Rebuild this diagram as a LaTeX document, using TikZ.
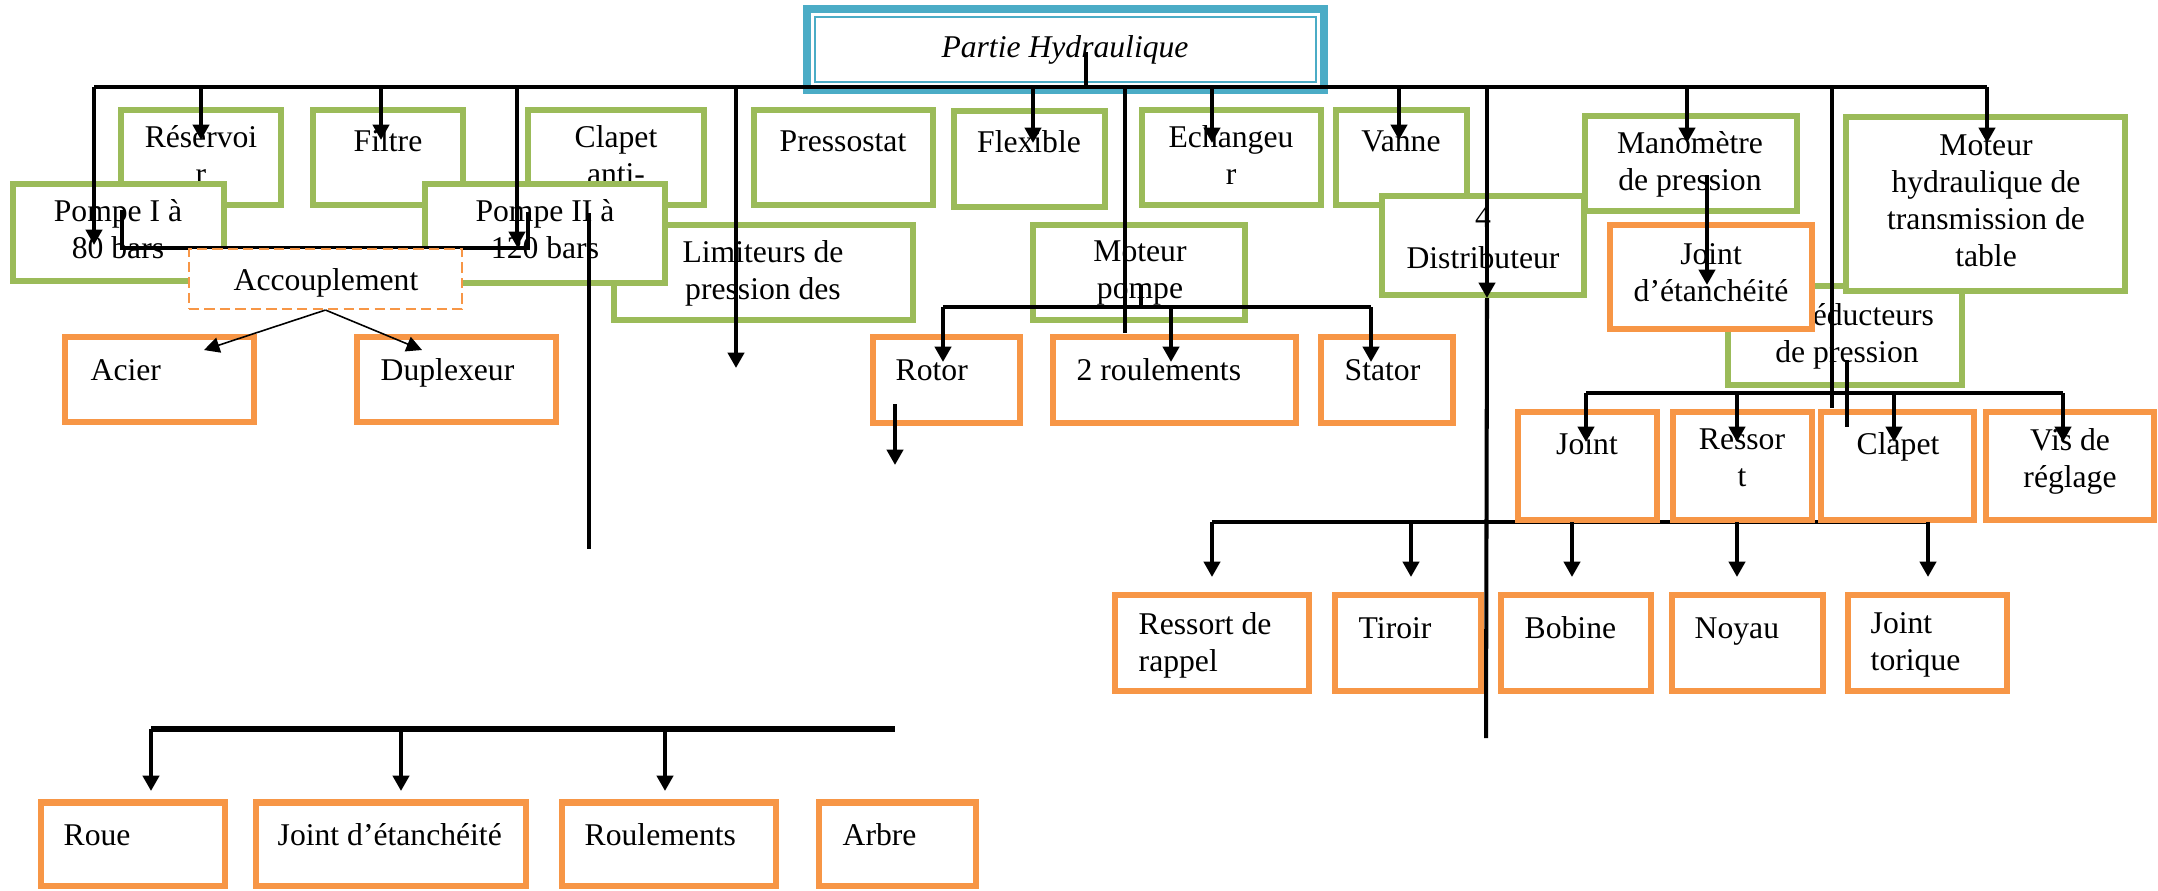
\documentclass[tikz,border=0pt]{standalone}
\usepackage{fontspec}
\setmainfont{Liberation Serif}
\usetikzlibrary{arrows.meta}
\definecolor{gr}{HTML}{9BBB59}
\definecolor{og}{HTML}{F79646}
\definecolor{bl}{HTML}{4BACC6}
% box from outer corners: \bx[line width pt]{style}{name}{x1}{y1}{x2}{y2}
\newcommand\bx[7][1.85]{%
  \pgfmathsetmacro\bxW{((#6)-(#4))*0.2845276-(#1)}%
  \pgfmathsetmacro\bxH{((#7)-(#5))*0.2845276-(#1)}%
  \node[#2, line width=#1pt, minimum width=\bxW pt, minimum height=\bxH pt] (#3) at ({((#4)+(#6))/2},{((#5)+(#7))/2}) {};}
% text placed by its first baseline: \tx[style]{name}{x}{baseline}{text}
\newcommand\tx[5][txt]{\node[#1] (#2) at ({#3},{(#4)-25.8}) {#5};}
\begin{document}
\begin{tikzpicture}[x=0.01cm,y=-0.01cm,
  box/.style={draw, fill=white, inner sep=0pt},
  gbox/.style={box, draw=gr},
  obox/.style={box, draw=og},
  tbox/.style={box, draw=bl},
  txt/.style={inner sep=0pt, align=center, anchor=north,
    font=\fontsize{9}{10.5}\selectfont, execute at begin node=\strut},
  ltxt/.style={txt, align=left, anchor=north west},
  bus/.style={line width=1.3pt},
  ln/.style={line width=1.15pt},
  arr/.style={line width=1.15pt, -{Triangle[length=4.4pt,width=4.6pt]}},
  thinarr/.style={line width=0.45pt, -{Triangle[length=4.4pt,width=4.4pt]}},
]
\useasboundingbox (0,0) rectangle (2158,890);

% ---- title
\bx[2.3]{tbox}{title}{803}{5}{1328}{94}
\draw[bl, line width=0.7pt] ([shift={(12,12)}]title.north west) rectangle ([shift={(-12,-12)}]title.south east);
\tx{title-t}{1065}{57}{\itshape Partie Hydraulique}

% ---- first row of components
\bx{gbox}{resv}{118}{107}{284}{208}   \tx{resv-t}{201}{151}{Réservoi\\r}
\bx{gbox}{filt}{310}{107}{466}{208}   \tx{filt-t}{388}{151}{Filtre}
\bx{gbox}{clap}{525}{107}{707}{208}   \tx{clap-t}{616}{151}{Clapet\\anti-}
\bx{gbox}{pres}{751}{107}{936}{208}   \tx{pres-t}{843}{151}{Pressostat}
\bx{gbox}{flex}{951}{108}{1108}{210}  \tx{flex-t}{1029}{152}{Flexible}
\bx{gbox}{echa}{1139}{107}{1324}{208} \tx{echa-t}{1231}{151}{Echangeu\\r}
\bx{gbox}{vann}{1333}{107}{1470}{208} \tx{vann-t}{1401}{151}{Vanne}

% ---- second row
\bx{gbox}{pmp1}{10}{181}{227}{284}    \tx{pmp1-t}{118}{225}{Pompe I à\\80 bars}
\bx{gbox}{limi}{611}{222}{916}{323}   \tx{limi-t}{763}{266}{Limiteurs de\\pression des}
\bx{gbox}{pmp2}{422}{181}{668}{286}   \tx{pmp2-t}{545}{225}{Pompe II à\\120 bars}
\bx{gbox}{mpom}{1030}{222}{1248}{323} \tx{mpom-t}{1140}{266}{Moteur\\pompe}
\bx{gbox}{dist}{1379}{193}{1587}{298} \tx{dist-t}{1483}{232}{4\\[1.2pt]Distributeur}
\bx{gbox}{redu}{1725}{283}{1965}{388} \tx{redu-t}{1847}{329}{\hspace*{9pt}Réducteurs\\de pression}
\bx{gbox}{mano}{1582}{113}{1800}{214} \tx{mano-t}{1690}{157}{Manomètre\\de pression}
\bx{gbox}{mhyd}{1843}{114}{2128}{294} \tx{mhyd-t}{1986}{160}{Moteur\\hydraulique de\\transmission de\\table}
\bx{obox}{jeta}{1607}{222}{1815}{332} \tx{jeta-t}{1711}{269}{Joint\\d’étanchéité}

% ---- coupling between the two pumps
\coordinate (brL) at (122,210);
\coordinate (brR) at (528,212);
\coordinate (brY) at (0,248);
\draw[bus] (brL) -- (brL |- brY) -- (brR |- brY) -- (brR);
\bx[0.6]{obox, dashed, dash pattern=on 2.9pt off 1.5pt}{acc}{188}{248}{463}{310}
\tx{acc-t}{326}{290}{Accouplement}
\bx{obox}{acie}{62}{334}{257}{425}    \tx[ltxt]{acie-t}{90}{380}{Acier}
\bx{obox}{dupl}{354}{334}{559}{425}   \tx[ltxt]{dupl-t}{380}{380}{Duplexeur}
\coordinate (tip-acie) at (204,350);
\coordinate (tip-dupl) at (422,350);
\draw[thinarr] (acc.south) -- (tip-acie);
\draw[thinarr] (acc.south) -- (tip-dupl);

% ---- motor-pump parts
\bx{obox}{roto}{870}{334}{1023}{426}  \tx[ltxt]{roto-t}{895}{380}{Rotor}
\bx{obox}{roul}{1050}{334}{1299}{426} \tx[ltxt]{roul-t}{1076}{380}{2 roulements}
\bx{obox}{stat}{1318}{334}{1456}{426} \tx[ltxt]{stat-t}{1344}{380}{Stator}

% ---- distributor parts bus (under the upper orange row)
\coordinate (lbL) at (1212,522);
\coordinate (lbR) at (1928,522);
\draw[bus] (lbL) -- (lbR);

% ---- pressure reducer parts
\bx{obox}{join}{1515}{409}{1660}{523}  \tx{join-t}{1587}{454}{Joint}
\bx{obox}{ress}{1670}{409}{1815}{523}  \tx{ress-t}{1742}{454}{Ressor\\t}
\bx{obox}{clp2}{1818}{409}{1977}{523}  \tx{clp2-t}{1898}{454}{Clapet}
\bx{obox}{vis}{1983}{409}{2157}{523}   \tx{vis-t}{2070}{454}{Vis de\\réglage}

% ---- distributor parts
\bx{obox}{rrap}{1112}{592}{1312}{694}  \tx[ltxt]{rrap-t}{1138}{638}{Ressort de\\rappel}
\bx{obox}{tiro}{1332}{592}{1484}{694}  \tx[ltxt]{tiro-t}{1358}{638}{Tiroir}
\bx{obox}{bobi}{1498}{592}{1654}{694}  \tx[ltxt]{bobi-t}{1524}{638}{Bobine}
\bx{obox}{noya}{1669}{592}{1826}{694}  \tx[ltxt]{noya-t}{1694}{638}{Noyau}
\bx{obox}{jtor}{1845}{592}{2010}{694}  \tx[ltxt]{jtor-t}{1870}{638}{Joint\\torique}

% ---- pump parts
\bx{obox}{roue}{38}{799}{228}{889}     \tx[ltxt]{roue-t}{63}{845}{Roue}
\bx{obox}{jet2}{253}{799}{529}{889}    \tx[ltxt]{jet2-t}{277}{845}{Joint d’étanchéité}
\bx{obox}{roum}{559}{799}{779}{889}    \tx[ltxt]{roum-t}{584}{845}{Roulements}
\bx{obox}{arbr}{816}{799}{979}{889}    \tx[ltxt]{arbr-t}{842}{845}{Arbre}

% ---- main bus
\coordinate (busL) at (94,87);
\coordinate (busR) at (1987,87);
\coordinate (stem) at (1086,52);
\draw[bus] (busL) -- (busR);
\draw[ln] (stem) -- (stem |- busL);
\foreach \n/\x/\y in {pmp1/94/245, resv/201/140, filt/381/140, pmp2/517/247,
    free/736/368, flex/1033/143, echa/1212/143, vann/1399/140, dist/1487/298,
    mano/1687/143, mhyd/1987/143}
  {\coordinate (tip-\n) at (\x,\y);
   \draw[arr] (tip-\n |- busL) -- (tip-\n);}
\coordinate (endA) at (1125,333);
\coordinate (endB) at (1832,408);
\draw[ln] (endA |- busL) -- (endA);
\draw[ln] (endB |- busL) -- (endB);
\coordinate (distEnd) at (1486,738);
\draw[ln] (tip-dist) -- (distEnd);

% ---- free line below pump II
\coordinate (p2a) at (589,213);
\coordinate (p2b) at (589,549);
\draw[line width=1pt] (p2a) -- (p2b);

% ---- motor-pump bus
\coordinate (mpTop) at (1141,285);
\coordinate (mpL) at (943,307);
\coordinate (mpR) at (1371,307);
\draw[ln] (mpTop) -- (mpTop |- mpL);
\draw[bus] (mpL) -- (mpR);
\foreach \n/\x in {roto/943, roul/1171, stat/1371}
  {\coordinate (tip-\n) at (\x,362);
   \draw[arr] (tip-\n |- mpL) -- (tip-\n);}
\coordinate (rtA) at (895,404);
\coordinate (rtB) at (895,465);
\draw[arr] (rtA) -- (rtB);

% ---- gauge to seal
\coordinate (mnA) at (1707,175);
\coordinate (mnB) at (1707,285);
\draw[arr] (mnA) -- (mnB);

% ---- reducer bus
\coordinate (rdTop) at (1847,360);
\coordinate (rdBot) at (1847,427);
\draw[ln] (rdTop) -- (rdBot);
\coordinate (rbL) at (1586,393);
\coordinate (rbR) at (2063,393);
\draw[bus] (rbL) -- (rbR);
\foreach \n/\x in {join/1586, ress/1737, clp2/1894, vis/2063}
  {\coordinate (tip-\n) at (\x,442);
   \draw[arr] (tip-\n |- rbL) -- (tip-\n);}

% ---- distributor bus arrows
\foreach \n/\x in {rrap/1212, tiro/1411, bobi/1572, noya/1737, jtor/1928}
  {\coordinate (tip-\n) at (\x,577);
   \draw[arr] (tip-\n |- lbL) -- (tip-\n);}

% ---- pump parts bus
\coordinate (pbL) at (151,729);
\coordinate (pbR) at (895,729);
\draw[line width=1.45pt] (pbL) -- (pbR);
\foreach \n/\x in {roue/151, jet2/401, roum/665}
  {\coordinate (tip-\n) at (\x,791);
   \draw[arr] (tip-\n |- pbL) -- (tip-\n);}
\end{tikzpicture}
\end{document}
